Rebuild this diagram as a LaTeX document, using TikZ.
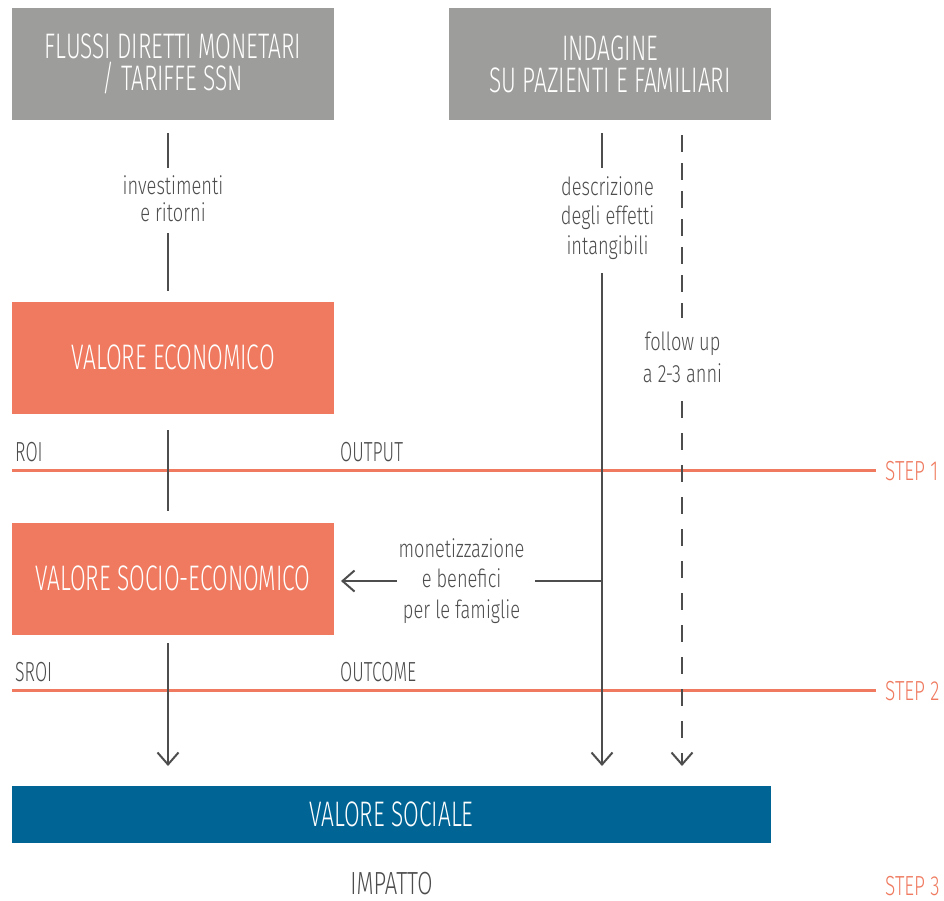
\documentclass[tikz,border=0pt]{standalone}
\usepackage{fontspec}
\setmainfont{Fira Sans Light}
\newfontfamily\condf{Fira Sans Light}[FakeStretch=0.64]
\newfontfamily\condg{Fira Sans Light}[FakeStretch=0.69]
\newfontfamily\lowf{Fira Sans Light}[FakeStretch=0.73]
\usetikzlibrary{arrows.meta,calc}
\definecolor{boxgray}{HTML}{9D9D9B}
\definecolor{boxorange}{HTML}{EF7A5F}
\definecolor{boxblue}{HTML}{006595}
\definecolor{linegray}{HTML}{4D4D4D}
\definecolor{txtgray}{HTML}{4D4D4D}
\begin{document}
\begin{tikzpicture}[x=1pt,y=-1pt,
 box/.style={minimum width=322pt, minimum height=112pt, inner sep=0pt, text=white, align=center, font=\condf\fontsize{35.5}{32}\selectfont},
 graybox/.style={box, fill=boxgray},
 orangebox/.style={box, fill=boxorange},
 bluebox/.style={box, fill=boxblue, minimum width=759pt, minimum height=57pt},
 lab/.style={inner sep=0pt, text=txtgray, align=center, font=\lowf\fontsize{25}{29.5}\selectfont},
 caplab/.style={inner sep=0pt, text=txtgray, font=\condf\fontsize{27.6}{30}\selectfont},
 steplab/.style={inner sep=0pt, text=boxorange, font=\condg\fontsize{27.6}{30}\selectfont},
 conn/.style={draw=linegray, line width=2.6pt},
 dconnA/.style={conn, dash pattern=on 17pt off 11pt},
 dconnB/.style={conn, dash pattern=on 17pt off 15pt},
 arr/.style={-{Straight Barb[length=12pt,width=21pt,line width=2pt]}},
 stepline/.style={draw=boxorange, line width=2.6pt}]

\useasboundingbox (0,0) rectangle (944,900);

% boxes
\node[graybox] (flussi) at (173,64) {FLUSSI DIRETTI MONETARI\\/ TARIFFE SSN};
\node[graybox] (indagine) at (610,64) {INDAGINE\\SU PAZIENTI E FAMILIARI};
\node[orangebox] (ve) at (173,357.5) {VALORE ECONOMICO};
\node[orangebox] (vse) at (173,578.5) {VALORE SOCIO-ECONOMICO};
\node[bluebox] (vs) at (391.5,814.5) {VALORE SOCIALE};
\node[inner sep=0pt, text=txtgray, font=\condg\fontsize{32}{34}\selectfont] (imp) at (391.5,884) {IMPATTO};

% labels
\node[lab, font=\lowf\fontsize{25}{27}\selectfont] (inv) at (173,198.5) {investimenti\\e ritorni};
\node[lab] (descr) at (607.5,218) {descrizione\\degli effetti\\intangibili};
\node[lab, font=\lowf\fontsize{25}{32}\selectfont] (foll) at (682.5,357) {follow up\\a 2-3 anni};
\node[lab, font=\lowf\fontsize{25}{30.5}\selectfont] (mon) at (461.5,581) {monetizzazione\\e benefici\\per le famiglie};

\node[caplab, anchor=base west] (roi) at (15,461) {ROI};
\node[caplab, anchor=base west] (output) at (340,461) {OUTPUT};
\node[steplab, anchor=west] (s1) at (885,471) {STEP 1};
\node[caplab, anchor=base west] (sroi) at (15,681) {SROI};
\node[caplab, anchor=base west] (outcome) at (340,681) {OUTCOME};
\node[steplab, anchor=west] (s2) at (885,691) {STEP 2};
\node[steplab, anchor=west] (s3) at (885,886) {STEP 3};

% step lines
\coordinate (l1) at (12,470.5);
\coordinate (l2) at (12,690.5);
\draw[stepline] (l1) -- ([xshift=-9pt]l1 -| s1.west);
\draw[stepline] (l2) -- ([xshift=-9pt]l2 -| s2.west);

% left column
\coordinate (a1) at (168,133); \coordinate (a2) at (168,168);
\coordinate (a3) at (168,233); \coordinate (a4) at (168,291);
\coordinate (b1) at (168,430); \coordinate (b2) at (168,511);
\coordinate (c1) at (168,643); \coordinate (c2) at (168,766);
\draw[conn] (a1) -- (a2);
\draw[conn] (a3) -- (a4);
\draw[conn] (b1) -- (b2);
\draw[conn,arr] (c1) -- (c2);

% middle column
\coordinate (m1) at (602,133); \coordinate (m2) at (602,168);
\coordinate (m3) at (602,273); \coordinate (m4) at (602,766);
\draw[conn] (m1) -- (m2);
\draw[conn,arr] (m3) -- (m4);

% horizontal arrow
\coordinate (h1) at (602,581); \coordinate (h2) at (535,581);
\coordinate (h3) at (397,581); \coordinate (h4) at (341,581);
\draw[conn] (h1) -- (h2);
\draw[conn,arr] (h3) -- (h4);

% dashed column
\coordinate (d1) at (682,135); \coordinate (d2) at (682,318);
\coordinate (d3) at (682,401); \coordinate (d4) at (682,766);
\draw[dconnA] (d1) -- (d2);
\draw[dconnB,arr] (d3) -- (d4);
\end{tikzpicture}
\end{document}
